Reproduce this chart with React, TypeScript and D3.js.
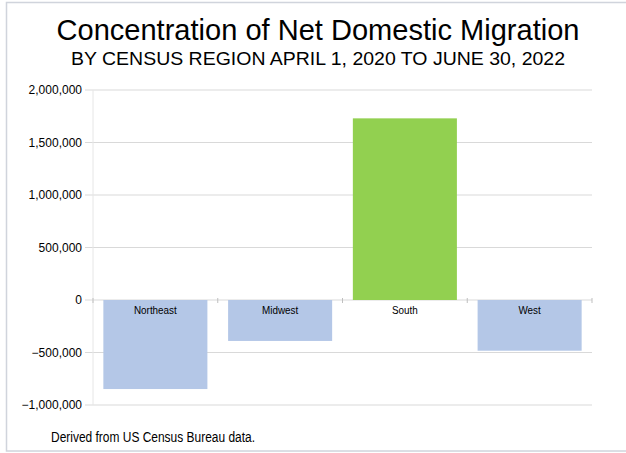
import React from "react";
import * as d3 from "d3";

const categories = ["Northeast", "Midwest", "South", "West"];
const values = [-848000, -390000, 1730000, -483000];
const yTicks = [-1000000, -500000, 0, 500000, 1000000, 1500000, 2000000];
const title = "Concentration of Net Domestic Migration";
const subtitle = "BY CENSUS REGION APRIL 1, 2020 TO JUNE 30, 2022";
const footnote = "Derived from US Census Bureau data.";

const W = 626, H = 453;
const FONT = "'Liberation Sans', Arial, Helvetica, sans-serif";

export default function App() {
  const x = d3.scaleBand<string>().domain(categories).range([93, 592]).paddingInner(0.166).paddingOuter(0.083);
  const y = d3.scaleLinear().domain([-1000000, 2000000]).range([405, 90]);
  const fmt = d3.format(",");
  const step = x.step();
  const bounds = d3.range(categories.length + 1).map((i) => 93 + i * step);
  return (
    <svg width={W} height={H} style={{ position: "absolute", left: 0, top: 0, background: "#fff" }} fontFamily={FONT}>
      <rect x={6.5} y={2.5} width={W} height={448.5} fill="#fff" stroke="#d0d4dc" strokeWidth={1.5} />
      <text x={56.5} y={40} fontSize={30} fill="#000" textLength={523} lengthAdjust="spacingAndGlyphs">{title}</text>
      <text x={71} y={65} fontSize={18.6} fill="#000" textLength={494} lengthAdjust="spacingAndGlyphs">{subtitle}</text>
      {yTicks.map((t) => (
        <g key={t}>
          <line x1={85} x2={592} y1={y(t)} y2={y(t)} stroke="#d9d9d9" strokeWidth={1} />
          <text x={82} y={y(t)} dy="0.35em" textAnchor="end" fontSize={12} fill="#000">{fmt(t)}</text>
        </g>
      ))}
      <line x1={93} x2={93} y1={90} y2={405} stroke="#e6e6e6" strokeWidth={1} />
      {bounds.map((b, i) => (
        <line key={i} x1={b} x2={b} y1={y(0) - 2} y2={y(0) + 3} stroke="#bfbfbf" strokeWidth={1} />
      ))}
      {categories.map((c, i) => {
        const v = values[i];
        return (
          <rect key={c} x={x(c)} width={x.bandwidth()} y={y(Math.max(0, v))} height={Math.abs(y(v) - y(0))}
            fill={v > 0 ? "#92d050" : "#b4c7e7"} />
        );
      })}
      {categories.map((c) => {
        const cx = (x(c) as number) + x.bandwidth() / 2;
        return (
          <g key={c} transform={`translate(${cx},${y(0) + 14}) scale(0.86,1)`}>
            <text x={0} y={0} textAnchor="middle" fontSize={11.5} fill="#000">{c}</text>
          </g>
        );
      })}
      <text x={51} y={442} fontSize={14} fill="#000" textLength={204} lengthAdjust="spacingAndGlyphs">{footnote}</text>
    </svg>
  );
}
